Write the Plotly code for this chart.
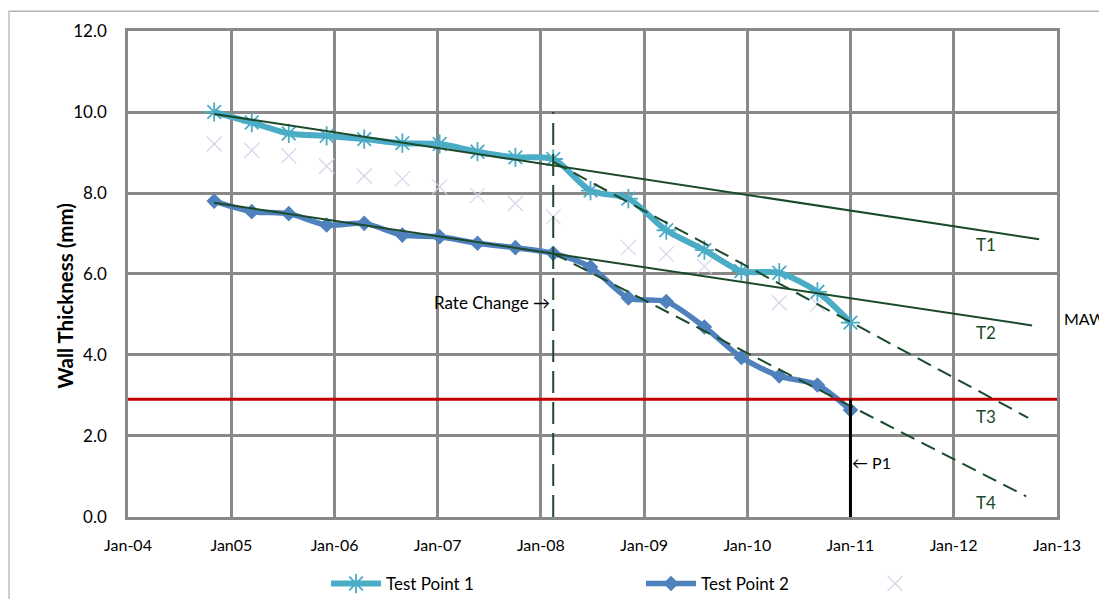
import plotly.graph_objects as go

# ---------------- data ----------------
dates = ["2004-11-01", "2005-03-14", "2005-07-23", "2005-12-04", "2006-04-16",
         "2006-08-29", "2007-01-08", "2007-05-22", "2007-10-03", "2008-02-14",
         "2008-06-25", "2008-11-06", "2009-03-20", "2009-08-02", "2009-12-11",
         "2010-04-24", "2010-09-06", "2011-01-01"]
tp1 = [10.0, 9.74, 9.47, 9.41, 9.33, 9.23, 9.21, 9.02, 8.88, 8.84,
       8.06, 7.86, 7.08, 6.59, 6.07, 6.03, 5.56, 4.80]
tp2 = [7.80, 7.54, 7.49, 7.21, 7.25, 6.96, 6.92, 6.76, 6.65, 6.51,
       6.17, 5.41, 5.32, 4.69, 3.94, 3.48, 3.26, 2.64]
faint = [9.21, 9.05, 8.92, 8.66, 8.42, 8.35, 8.15, 7.94, 7.74, 7.41,
         None, 6.65, 6.49, 6.19, None, 5.29, 5.25, None]

t1_x = ["2004-11-01", "2012-10-30"]; t1_y = [9.95, 6.86]
t2_x = ["2004-11-01", "2012-10-05"]; t2_y = [7.76, 4.73]
t3_x = ["2008-02-14", "2012-09-21"]; t3_y = [8.77, 2.45]
t4_x = ["2008-02-14", "2012-09-14"]; t4_y = [6.51, 0.51]

mawt = 2.91
rate_change_date = "2008-02-14"
rate_change_top = 10.0
p1_date = "2011-01-01"

x_range = ["2004-01-01", "2013-01-01"]
x_tickvals = ["2004-01-01", "2005-01-01", "2006-01-01", "2007-01-01", "2008-01-01",
              "2009-01-01", "2010-01-01", "2011-01-01", "2012-01-01", "2013-01-01"]
x_ticktext = ["Jan-04", "Jan05", "Jan-06", "Jan-07", "Jan-08",
              "Jan-09", "Jan-10", "Jan-11", "Jan-12", "Jan-13"]
y_tickvals = [0, 2, 4, 6, 8, 10, 12]

trend_labels = ["T1", "T2", "T3", "T4"]
trend_label_x = "2012-04-26"
trend_label_y = [6.74, 4.56, 2.47, 0.37]

# ---------------- style ----------------
FONT = "Lato"
GREEN = "#1b4a2a"
GRID = "#898989"
C1 = "#4bacc6"
C2 = "#4f81bd"
TREND_DASH = "15px,8px"

fig = go.Figure()

# faint background series
fig.add_trace(go.Scatter(
    x=dates, y=faint, mode="markers", name=" ", legendrank=3, legendwidth=150,
    marker=dict(symbol="x-thin-open", size=15, color="#d9d3ea",
                line=dict(color="#d9d3ea", width=1.2)),
))

# data series
fig.add_trace(go.Scatter(
    x=dates, y=tp1, mode="lines+markers", name="Test Point 1", legendrank=1, legendwidth=250,
    line=dict(color=C1, width=6, shape="spline", smoothing=0.8),
    marker=dict(symbol="asterisk-open", size=16, color=C1, line=dict(color=C1, width=1.8)),
))
fig.add_trace(go.Scatter(
    x=dates, y=tp2, mode="lines+markers", name="Test Point 2", legendrank=2, legendwidth=159,
    line=dict(color=C2, width=5.5, shape="spline", smoothing=0.8),
    marker=dict(symbol="diamond", size=12, color=C2),
))

# trend lines on top
for tx, ty, dash in [(t1_x, t1_y, None), (t2_x, t2_y, None),
                     (t3_x, t3_y, TREND_DASH), (t4_x, t4_y, TREND_DASH)]:
    fig.add_trace(go.Scatter(x=tx, y=ty, mode="lines", showlegend=False, hoverinfo="skip",
                             line=dict(color=GREEN, width=2, dash=dash)))

# MAWT line
fig.add_trace(go.Scatter(x=x_range, y=[mawt, mawt], mode="lines", showlegend=False,
                         hoverinfo="skip", line=dict(color="#c00000", width=3)))
# rate change line
fig.add_trace(go.Scatter(x=[rate_change_date, rate_change_date], y=[0, rate_change_top],
                         mode="lines", showlegend=False, hoverinfo="skip",
                         line=dict(color=GREEN, width=2, dash="22px,9px")))
# P1 line
fig.add_trace(go.Scatter(x=[p1_date, p1_date], y=[0, mawt], mode="lines", showlegend=False,
                         hoverinfo="skip", line=dict(color="black", width=3)))

annotations = []
for lab, ly in zip(trend_labels, trend_label_y):
    annotations.append(dict(x=trend_label_x, y=ly, xref="x", yref="y", text=lab,
                            showarrow=False, font=dict(family=FONT, size=17, color=GREEN)))
annotations.append(dict(x=rate_change_date, y=5.3, xref="x", yref="y", text="Rate Change →",
                        xanchor="right", showarrow=False, xshift=-1,
                        font=dict(family=FONT, size=17, color="black")))
annotations.append(dict(x=p1_date, y=1.35, xref="x", yref="y", text="← P1",
                        xanchor="left", showarrow=False, xshift=0,
                        font=dict(family=FONT, size=16, color="black")))
annotations.append(dict(x=1.005, y=4.9, xref="paper", yref="y", text="MAWT",
                        xanchor="left", showarrow=False,
                        font=dict(family=FONT, size=16, color="black")))
annotations.append(dict(x=-0.083, y=0.455, xref="paper", yref="paper",
                        text="<b>Wall Thickness (mm)</b>", textangle=-90, showarrow=False,
                        font=dict(family=FONT, size=20.5, color="black")))

# the page adds an 8px body margin on every side; size the figure so the page is 1107x607
fig.update_layout(
    width=1091, height=591,
    margin=dict(l=120, r=42, t=22, b=77),
    paper_bgcolor="white", plot_bgcolor="white",
    font=dict(family=FONT, size=16, color="black"),
    annotations=annotations,
    legend=dict(orientation="h", xref="container", yref="container",
                x=0.2915, y=0.0254, xanchor="left", yanchor="middle",
                itemwidth=50,
                font=dict(family=FONT, size=17, color="black"),
                traceorder="normal", bgcolor="rgba(0,0,0,0)"),
    shapes=[dict(type="rect", xref="paper", yref="paper",
                 x0=(9 - 128) / 929, x1=1.2, y0=-0.3, y1=(522 - 10) / 492,
                 line=dict(color="#b4b4b4", width=1.3), layer="below")],
    hovermode=False,
)
fig.update_xaxes(type="date", range=x_range, tickvals=x_tickvals, ticktext=x_ticktext,
                 showgrid=True, gridcolor=GRID, gridwidth=2.6,
                 showline=True, linecolor=GRID, linewidth=2.6, mirror=True,
                 ticks="", ticklabelstandoff=12, zeroline=False,
                 tickfont=dict(family=FONT, size=16, color="black"))
fig.update_yaxes(range=[0, 12], tickvals=y_tickvals, tickformat=".1f",
                 showgrid=True, gridcolor=GRID, gridwidth=2.6,
                 showline=True, linecolor=GRID, linewidth=2.6, mirror=True,
                 ticks="", ticklabelstandoff=15, zeroline=False,
                 tickfont=dict(family=FONT, size=17, color="black"))

fig.write_html("out.html")
